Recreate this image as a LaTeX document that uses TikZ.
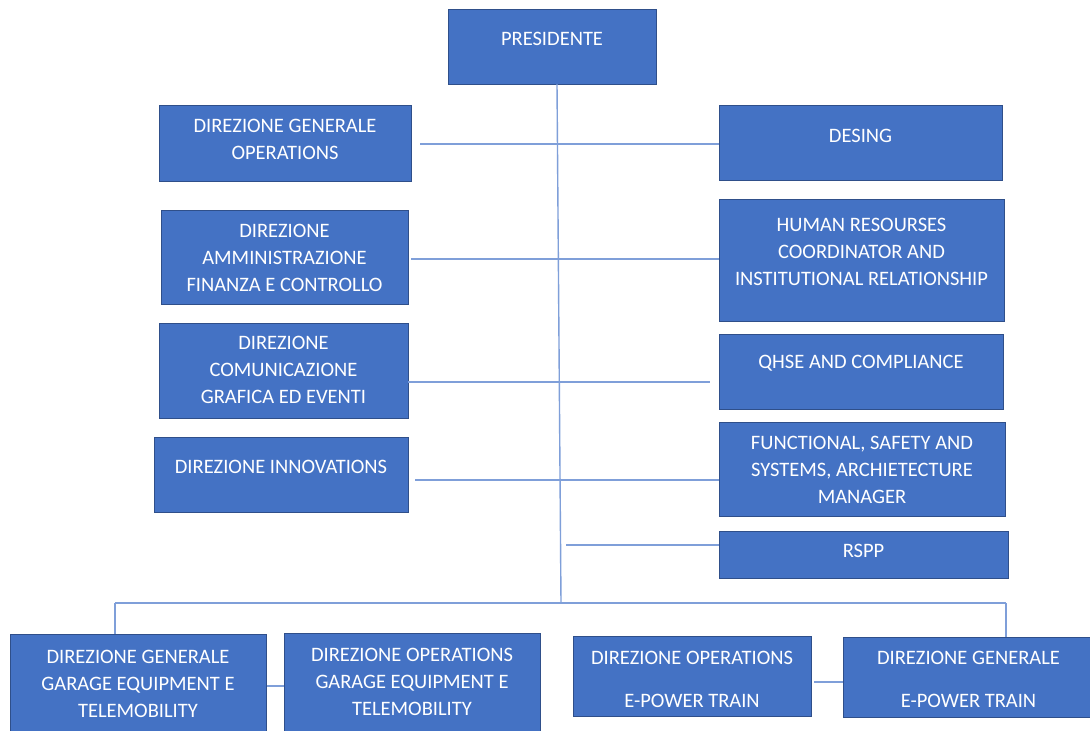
\documentclass[tikz,border=0pt]{standalone}
\usepackage{fontspec}
\setmainfont{Carlito}
\definecolor{boxfill}{HTML}{4472C4}
\definecolor{boxline}{HTML}{2F4F8A}
\definecolor{linec}{HTML}{7F9FD9}
\begin{document}
\begin{tikzpicture}[x=1pt,y=-1pt,
  box/.style={draw=boxline, fill=boxfill, line width=1pt, inner sep=0pt},
  lbl/.style={text=white, font=\fontsize{20.5}{27}\selectfont, align=center, inner sep=0pt},
  conn/.style={draw=linec, line width=1.4pt}]
\clip (0,0) rectangle (1090,731);
\fill[white] (0,0) rectangle (1090,731);
% boxes
\node[box, minimum width=208pt, minimum height=75pt] (P) at (552,46.5) {};
\node[lbl] (Pt) at (552,39) {PRESIDENTE};
\node[box, minimum width=252pt, minimum height=76pt] (DGO) at (285,143) {};
\node[lbl] (DGOt) at (285,139.5) {DIREZIONE GENERALE\\OPERATIONS};
\node[box, minimum width=283pt, minimum height=75pt] (DES) at (860.5,142.5) {};
\node[lbl] (DESt) at (860.5,136) {DESING};
\node[box, minimum width=247pt, minimum height=94pt] (AFC) at (284.5,257) {};
\node[lbl] (AFCt) at (284.5,258) {DIREZIONE\\AMMINISTRAZIONE\\FINANZA E CONTROLLO};
\node[box, minimum width=285pt, minimum height=122pt] (HR) at (861.5,260) {};
\node[lbl] (HRt) at (861.5,251.5) {HUMAN RESOURSES\\COORDINATOR AND\\INSTITUTIONAL RELATIONSHIP};
\node[box, minimum width=249pt, minimum height=95pt] (COM) at (283.5,370.5) {};
\node[lbl] (COMt) at (283.5,370) {DIREZIONE\\COMUNICAZIONE\\GRAFICA ED EVENTI};
\node[box, minimum width=284pt, minimum height=75pt] (QH) at (861,371.5) {};
\node[lbl] (QHt) at (861,363) {QHSE AND COMPLIANCE};
\node[box, minimum width=254pt, minimum height=75pt] (INN) at (281,474.5) {};
\node[lbl] (INNt) at (281,467) {DIREZIONE INNOVATIONS};
\node[box, minimum width=286pt, minimum height=94pt] (FUN) at (862,469) {};
\node[lbl] (FUNt) at (862,470) {FUNCTIONAL, SAFETY AND\\SYSTEMS, ARCHIETECTURE\\MANAGER};
\node[box, minimum width=289pt, minimum height=47pt] (RS) at (863.5,554.5) {};
\node[lbl] (RSt) at (863.5,551) {RSPP};
\node[box, minimum width=256pt, minimum height=101pt] (G1) at (138,684.5) {};
\node[lbl] (G1t) at (138,684) {DIREZIONE GENERALE\\GARAGE EQUIPMENT E\\TELEMOBILITY};
\node[box, minimum width=256pt, minimum height=102pt] (G2) at (412,684) {};
\node[lbl] (G2t) at (412,682) {DIREZIONE OPERATIONS\\GARAGE EQUIPMENT E\\TELEMOBILITY};
\node[box, minimum width=238pt, minimum height=80pt] (E1) at (692,676) {};
\node[lbl] (E1t) at (692,679.5) {DIREZIONE OPERATIONS\\[16pt]E-POWER TRAIN};
\node[box, minimum width=252pt, minimum height=80pt] (E2) at (969,677) {};
\node[lbl] (E2t) at (968.5,679.5) {DIREZIONE GENERALE\\[16pt]E-POWER TRAIN};
% connector points
\coordinate (trunkTop) at (557,84);
\coordinate (trunkBot) at (561,603);
\coordinate (barL) at (115,603);
\coordinate (barR) at (1006,603);
\coordinate (r1) at (420,144);
\coordinate (r2) at (411,259);
\coordinate (r3a) at (408,382);
\coordinate (r3b) at (710,382);
\coordinate (r4) at (415,480);
\coordinate (r5) at (566,545);
\coordinate (g) at (0,686);
\coordinate (e) at (814,682);
% connectors
\draw[conn] (trunkTop) -- (trunkBot);
\draw[conn] (r1) -- (r1 -| DES.west);
\draw[conn] (r2) -- (r2 -| HR.west);
\draw[conn] (r3a) -- (r3b);
\draw[conn] (r4) -- (r4 -| FUN.west);
\draw[conn] (r5) -- (r5 -| RS.west);
\draw[conn] (barL) -- (barR);
\draw[conn] (barL) -- (barL |- G1.north);
\draw[conn] (barR) -- (barR |- E2.north);
\draw[conn] (g -| G1.east) -- (g -| G2.west);
\draw[conn] (e) -- (e -| E2.west);
\end{tikzpicture}
\end{document}
